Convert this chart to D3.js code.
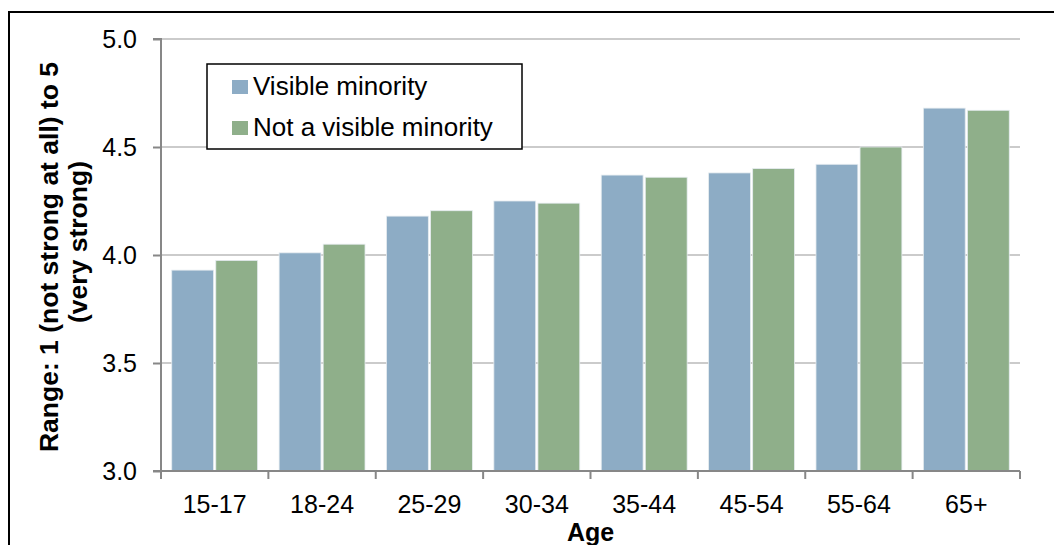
<!DOCTYPE html>
<html>
<head>
<meta charset="utf-8">
<script src="https://cdn.jsdelivr.net/npm/d3@7"></script>
<style>
  html, body { margin: 0; padding: 0; background: #fff; }
  svg { display: block; font-family: "Liberation Sans", Arial, sans-serif; }
</style>
</head>
<body>
<svg id="chart" width="1054" height="545"></svg>
<script>
// Age groups and mean sense-of-belonging scores for each group
const categories = ["15-17", "18-24", "25-29", "30-34", "35-44", "45-54", "55-64", "65+"];
const seriesNames = ["Visible minority", "Not a visible minority"];
const visibleMinority = [3.93, 4.01, 4.18, 4.25, 4.37, 4.38, 4.42, 4.68];
const notVisibleMinority = [3.975, 4.05, 4.205, 4.24, 4.36, 4.40, 4.50, 4.67];
const yTicks = [3.0, 3.5, 4.0, 4.5, 5.0];
const colors = ["#8dacc5", "#8faf8a"];

const svg = d3.select("#chart");

// Outer frame (top and left edges visible)
svg.append("line").attr("x1", 8).attr("x2", 1054).attr("y1", 12).attr("y2", 12)
  .attr("stroke", "#000").attr("stroke-width", 2);
svg.append("line").attr("x1", 9).attr("x2", 9).attr("y1", 11).attr("y2", 545)
  .attr("stroke", "#000").attr("stroke-width", 2);

const plot = { left: 161, right: 1020, top: 39, bottom: 471 };

const x0 = d3.scaleBand().domain(categories)
  .range([plot.left, plot.right]).paddingInner(0.2).paddingOuter(0.1);
const xAxisScale = d3.scaleBand().domain(categories).range([plot.left, plot.right]);
const x1 = d3.scaleBand().domain([0, 1]).range([0, x0.bandwidth()]).paddingInner(0.05);
const y = d3.scaleLinear().domain([3, 5]).range([plot.bottom, plot.top]);

// Horizontal gridlines
svg.append("g").selectAll("line").data(yTicks.filter(t => t > 3)).join("line")
  .attr("x1", plot.left).attr("x2", plot.right)
  .attr("y1", d => y(d)).attr("y2", d => y(d))
  .attr("stroke", "#cbcbcb").attr("stroke-width", 2);

// Bars
const rows = categories.map((c, i) => ({ cat: c, vals: [visibleMinority[i], notVisibleMinority[i]] }));
svg.append("g").selectAll("g").data(rows).join("g")
  .attr("transform", d => `translate(${x0(d.cat)},0)`)
  .selectAll("rect").data(d => d.vals.map((v, k) => ({ v, k }))).join("rect")
  .attr("x", d => x1(d.k))
  .attr("width", x1.bandwidth())
  .attr("y", d => y(d.v))
  .attr("height", d => y(3) - y(d.v))
  .attr("fill", d => colors[d.k])
  .attr("stroke", "#e6ecf0").attr("stroke-width", 0.8);

// Y axis
const yAxis = d3.axisLeft(y).tickValues(yTicks).tickFormat(d3.format(".1f")).tickSize(8).tickPadding(16);
const gy = svg.append("g").attr("transform", `translate(${plot.left},0)`).call(yAxis);
gy.select(".domain").attr("stroke", "#878787").attr("stroke-width", 2).attr("d", `M-8,${plot.top}H0V${plot.bottom}`);
gy.selectAll(".tick line").attr("stroke", "#878787").attr("stroke-width", 2);
gy.selectAll(".tick text").attr("font-size", 25).attr("fill", "#000")
  .attr("font-family", "Liberation Sans, Arial, sans-serif");

// X axis
const xAxis = d3.axisBottom(xAxisScale).tickSize(0).tickPadding(0);
const gx = svg.append("g").attr("transform", `translate(0,${plot.bottom})`).call(xAxis);
gx.select(".domain").attr("stroke", "#878787").attr("stroke-width", 2)
  .attr("d", `M${plot.left - 8},0H${plot.right}`);
gx.selectAll(".tick text").attr("font-size", 25).attr("fill", "#000")
  .attr("font-family", "Liberation Sans, Arial, sans-serif")
  .attr("dy", null).attr("y", 42);
// Category separator ticks
const bounds = categories.map(c => xAxisScale(c)).concat([plot.right]);
gx.append("g").selectAll("line").data(bounds).join("line")
  .attr("x1", d => d).attr("x2", d => d).attr("y1", 0).attr("y2", 8)
  .attr("stroke", "#878787").attr("stroke-width", 2);

// Axis titles
svg.append("text").attr("x", (plot.left + plot.right) / 2).attr("y", 541)
  .attr("text-anchor", "middle").attr("font-size", 25).attr("font-weight", "bold")
  .text("Age");
svg.append("text").attr("transform", "translate(58,257) rotate(-90)")
  .attr("text-anchor", "middle").attr("font-size", 26.5).attr("font-weight", "bold")
  .text("Range: 1 (not strong at all) to 5");
svg.append("text").attr("transform", "translate(87,242) rotate(-90)")
  .attr("text-anchor", "middle").attr("font-size", 26.5).attr("font-weight", "bold")
  .text("(very strong)");

// Legend
const legend = svg.append("g");
legend.append("rect").attr("x", 207).attr("y", 64).attr("width", 315).attr("height", 85)
  .attr("fill", "#fff").attr("stroke", "#000").attr("stroke-width", 1.5);
const items = legend.selectAll("g.item").data(seriesNames).join("g").attr("class", "item")
  .attr("transform", (d, i) => `translate(0,${95 + i * 41})`);
items.append("rect").attr("x", 232).attr("y", -15).attr("width", 16).attr("height", 14)
  .attr("fill", (d, i) => colors[i]);
items.append("text").attr("x", 253).attr("y", 0).attr("font-size", 26).attr("fill", "#000")
  .text(d => d);
</script>
</body>
</html>
